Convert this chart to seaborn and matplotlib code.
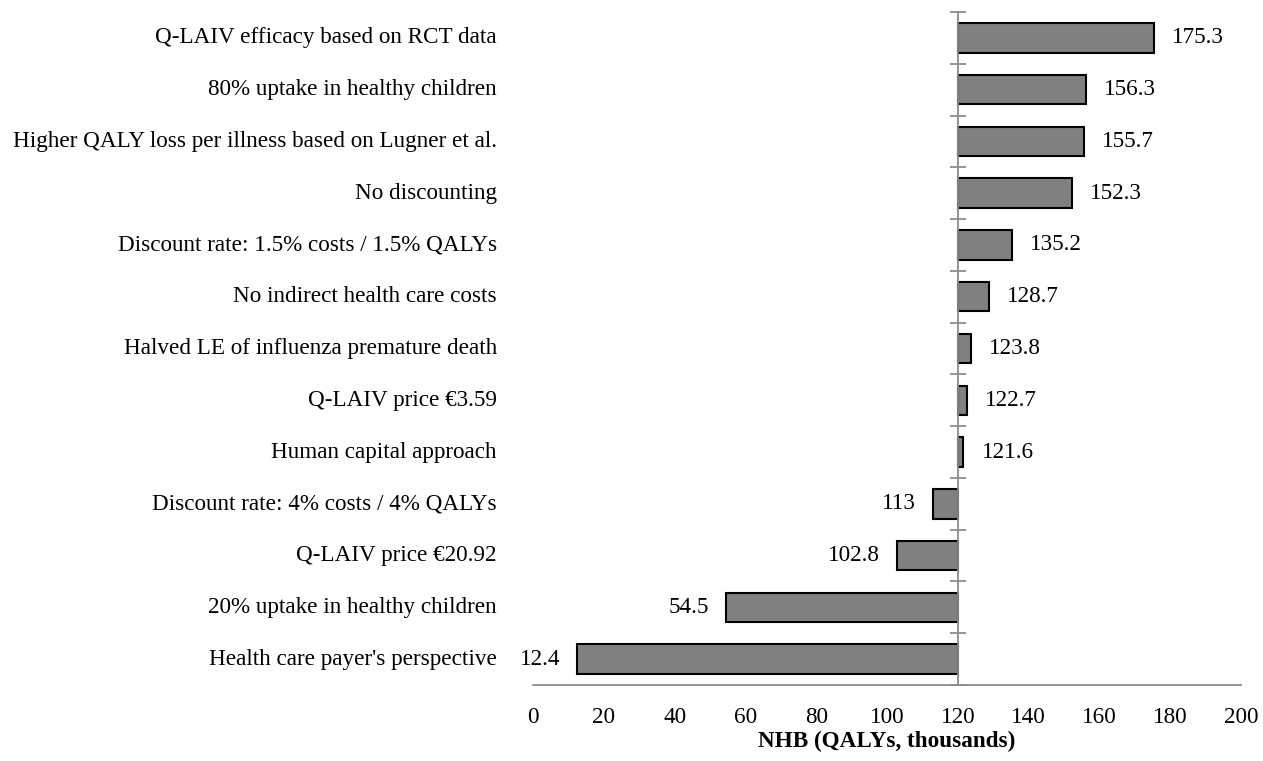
import matplotlib
matplotlib.use("Agg")
import matplotlib.pyplot as plt
import seaborn as sns
import pandas as pd
from matplotlib.transforms import offset_copy

# ---- data ----
scenarios = [
    "Q-LAIV efficacy based on RCT data",
    "80% uptake in healthy children",
    "Higher QALY loss per illness based on Lugner et al.",
    "No discounting",
    "Discount rate: 1.5% costs / 1.5% QALYs",
    "No indirect health care costs",
    "Halved LE of influenza premature death",
    "Q-LAIV price €3.59",
    "Human capital approach",
    "Discount rate: 4% costs / 4% QALYs",
    "Q-LAIV price €20.92",
    "20% uptake in healthy children",
    "Health care payer's perspective",
]
nhb = [175.3, 156.3, 155.7, 152.3, 135.2, 128.7, 123.8, 122.7, 121.6,
       113.0, 102.8, 54.5, 12.4]
base_case = 120.0
x_ticks = [0, 20, 40, 60, 80, 100, 120, 140, 160, 180, 200]
x_label = "NHB (QALYs, thousands)"

sns.set_theme(style="white")
plt.rcParams["font.family"] = ["Liberation Serif", "DejaVu Serif"]
plt.rcParams["text.color"] = "black"
plt.rcParams["axes.labelcolor"] = "black"
plt.rcParams["xtick.color"] = "black"

FS = 16.7

df = pd.DataFrame({"scenario": scenarios, "nhb": nhb})
df["delta"] = df["nhb"] - base_case

fig = plt.figure(figsize=(12.63, 7.61), dpi=100)
ax = fig.add_axes([533 / 1263, 1 - 685 / 761, (1241 - 533) / 1263, (685 - 12) / 761])

sns.barplot(data=df, y="scenario", x="delta", order=scenarios, orient="h",
            color="#808080", saturation=1, width=0.57, left=base_case,
            edgecolor="black", linewidth=1.5, ax=ax)

gray = "#8c8c8c"
ax.set_xlim(0, 200)
ax.set_ylim(len(scenarios) - 0.5, -0.5)
ax.set_xticks(x_ticks)
ax.set_xticklabels([str(t) for t in x_ticks], fontsize=FS, color="black")
ax.tick_params(axis="x", length=0, pad=16)
ax.set_xlabel(x_label, fontsize=FS, fontweight="bold", labelpad=2, color="black")
ax.set_ylabel("")

for s in ["top", "right"]:
    ax.spines[s].set_visible(False)
ax.spines["left"].set_position(("data", base_case))
ax.spines["left"].set_color(gray)
ax.spines["left"].set_linewidth(1.3)
ax.spines["bottom"].set_color(gray)
ax.spines["bottom"].set_linewidth(1.3)

bounds = [i - 0.5 for i in range(len(scenarios) + 1)]
ax.set_yticks(bounds)
ax.set_yticklabels([""] * len(bounds))
ax.tick_params(axis="y", direction="inout", length=11, width=1.3, color=gray, left=True)

ytrans = ax.get_yaxis_transform()
for i, name in enumerate(scenarios):
    ax.text(-0.051, i, name, transform=ytrans, ha="right", va="center",
            fontsize=FS, color="black")

for i, v in enumerate(nhb):
    lab = f"{v:g}"
    if v >= base_case:
        tr = offset_copy(ax.transData, fig=fig, x=13, y=0, units="points")
        ax.text(v, i, lab, transform=tr, ha="left", va="center", fontsize=FS, color="black")
    else:
        tr = offset_copy(ax.transData, fig=fig, x=-12, y=0, units="points")
        ax.text(v, i, lab, transform=tr, ha="right", va="center", fontsize=FS, color="black")

fig.savefig("out.png", dpi=100)
